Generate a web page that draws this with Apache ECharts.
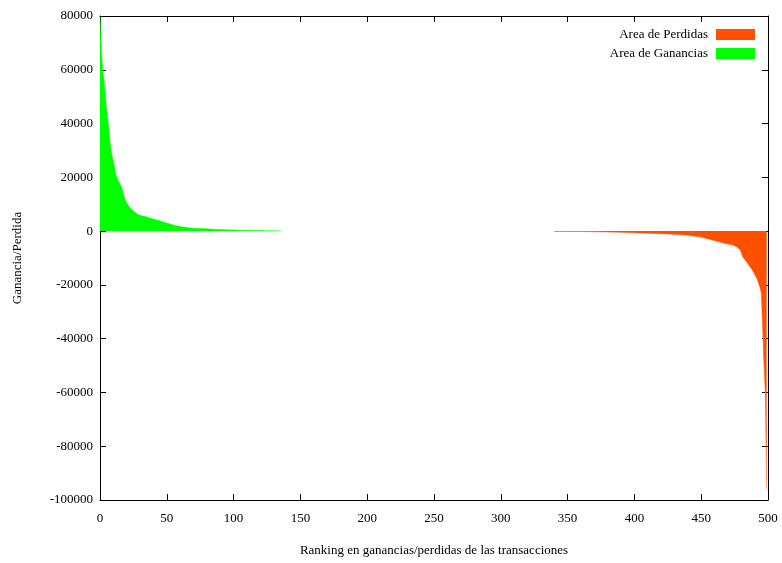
<!DOCTYPE html>
<html>
<head>
<meta charset="utf-8">
<script src="https://cdn.jsdelivr.net/npm/echarts@6/dist/echarts.min.js"></script>
<style>
html,body{margin:0;padding:0;background:#fff;}
#chart{width:782px;height:563px;}
</style>
</head>
<body>
<div id="chart"></div>
<script>
// Ganancias (gains) ranking positions and values
const gainRank = [0,1,2,3,4,5,6,7,8,9,10,11,12,13,14,15,16,17,18,19,20,21,22,23,24,25,26,27,28,29,30,32,34,36,38,40,42,44,46,48,50,52,54,56,58,60,62,65,68,70,75,80,85,90,95,100,105,110,115,120,125,130,136];
const gainValue = [80000,68000,60000,56000,50000,45000,41000,36000,31000,28000,26000,23500,21000,19500,18500,17500,16500,15000,13000,11500,10500,9800,9000,8500,8000,7400,7000,6600,6300,6000,5900,5600,5400,5100,4800,4500,4200,4000,3600,3300,3000,2700,2400,2100,1900,1700,1500,1300,1150,1050,950,850,700,600,500,420,350,300,250,200,160,120,80];
// Perdidas (losses) ranking positions and values
const lossRank = [340,350,360,370,380,390,400,410,420,430,440,450,456,462,466,470,474,477,479,480,481,482,484,486,488,490,492,493,494,495,496,497,498,499];
const lossValue = [-100,-120,-160,-250,-330,-450,-650,-800,-1000,-1200,-1500,-2200,-3000,-3800,-4300,-4800,-5200,-6000,-6800,-8000,-9500,-10200,-11500,-13000,-14300,-16000,-18000,-19500,-21000,-23000,-36000,-50000,-60000,-96000];

const xTicks = {min: 0, max: 500, interval: 50};
const yTicks = {min: -100000, max: 80000, interval: 20000};

const FONT = 'Liberation Serif';
const gainData = gainRank.map((r, i) => [r, gainValue[i]]);
const lossData = lossRank.map((r, i) => [r, lossValue[i]]);

const chart = echarts.init(document.getElementById('chart'), null, {renderer: 'canvas'});
const axisLine = {show: true, onZero: false, lineStyle: {color: '#000', width: 1}};
const tick = {show: true, inside: true, length: 6, lineStyle: {color: '#000', width: 1}};
chart.setOption({
  animation: false,
  backgroundColor: '#fff',
  textStyle: {fontFamily: FONT},
  grid: {left: 100, right: 14, top: 16, bottom: 63, containLabel: false, outerBoundsMode: 'none'},
  legend: {
    data: ['Area de Perdidas', 'Area de Ganancias'],
    orient: 'vertical',
    align: 'right',
    right: 27,
    top: 28,
    padding: 0,
    itemWidth: 39,
    itemHeight: 11,
    itemGap: 6,
    icon: 'rect',
    textStyle: {fontFamily: FONT, fontSize: 13, color: '#000', lineHeight: 11, padding: [0, 3, 0, 0]}
  },
  xAxis: [{
    type: 'value', min: xTicks.min, max: xTicks.max, interval: xTicks.interval,
    name: 'Ranking en ganancias/perdidas de las transacciones',
    nameLocation: 'middle', nameGap: 44,
    nameTextStyle: {fontFamily: FONT, fontSize: 13, color: '#000'},
    axisLine: axisLine, axisTick: tick, splitLine: {show: false},
    axisLabel: {fontFamily: FONT, fontSize: 13, color: '#000', margin: 12}
  }, {
    type: 'value', position: 'top', min: xTicks.min, max: xTicks.max, interval: xTicks.interval,
    axisLine: axisLine, axisTick: tick, splitLine: {show: false}, axisLabel: {show: false}
  }],
  yAxis: [{
    type: 'value', min: yTicks.min, max: yTicks.max, interval: yTicks.interval,
    name: 'Ganancia/Perdida', nameLocation: 'middle', nameGap: 76, nameRotate: 90,
    nameTextStyle: {fontFamily: FONT, fontSize: 13, color: '#000'},
    axisLine: axisLine, axisTick: tick, splitLine: {show: false},
    axisLabel: {fontFamily: FONT, fontSize: 13, color: '#000', margin: 7, formatter: v => String(v)}
  }, {
    type: 'value', position: 'right', min: yTicks.min, max: yTicks.max, interval: yTicks.interval,
    axisLine: axisLine, axisTick: tick, splitLine: {show: false}, axisLabel: {show: false}
  }],
  series: [{
    name: 'Area de Perdidas', type: 'line', data: lossData,
    showSymbol: false, symbol: 'none',
    itemStyle: {color: '#ff5000'},
    lineStyle: {color: '#ff5000', width: 0.5},
    areaStyle: {color: '#ff5000', opacity: 1, origin: 'auto'}
  }, {
    name: 'Area de Ganancias', type: 'line', data: gainData,
    showSymbol: false, symbol: 'none',
    itemStyle: {color: '#00ff00'},
    lineStyle: {color: '#00ff00', width: 0.5},
    areaStyle: {color: '#00ff00', opacity: 1, origin: 'auto'}
  }]
});
</script>
</body>
</html>
